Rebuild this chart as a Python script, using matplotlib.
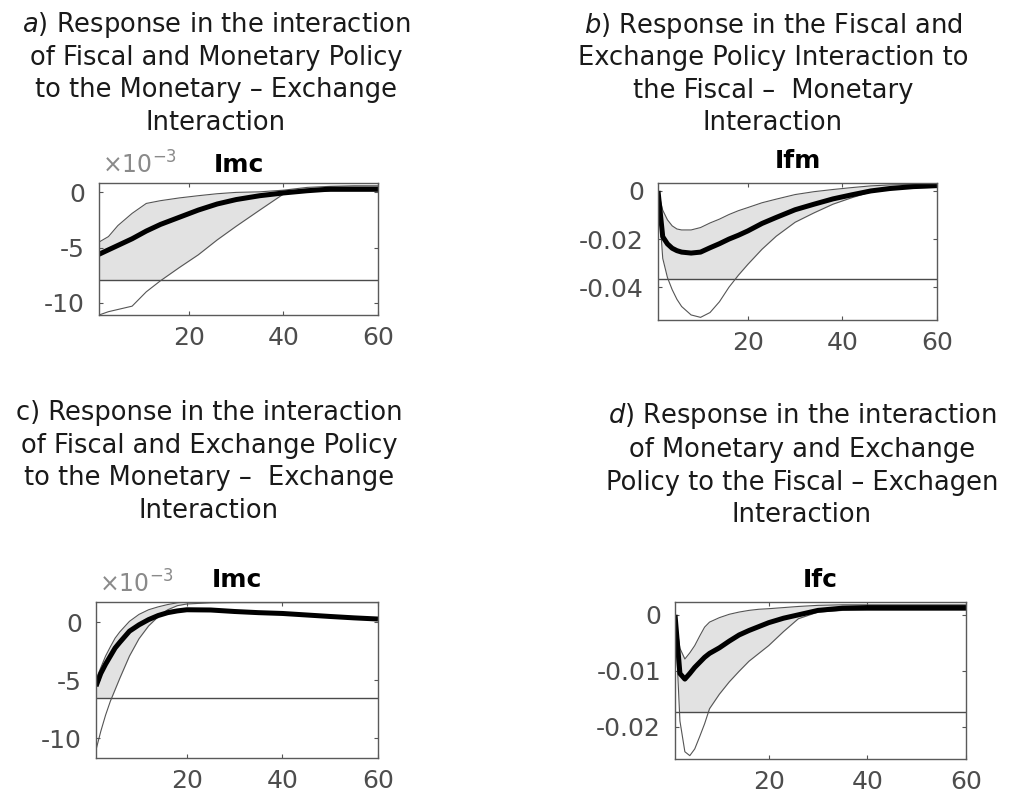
import numpy as np
import matplotlib
matplotlib.use('Agg')
from matplotlib import pyplot as plt
from matplotlib.ticker import FuncFormatter

plt.rcParams['font.family'] = 'DejaVu Sans'
plt.rcParams['axes.unicode_minus'] = False
plt.rcParams['mathtext.fontset'] = 'dejavusans'

# a) Imc response, values in units of 1e-3
h_a = [1, 3, 5, 8, 11, 14, 18, 22, 26, 30, 35, 40, 45, 50, 55, 60]
mean_a = [-5.6, -5.2, -4.8, -4.2, -3.5, -2.9, -2.25, -1.6, -1.05, -0.65, -0.3, -0.05, 0.15, 0.3, 0.3, 0.3]
upper_a = [-4.5, -4.0, -3.0, -1.9, -1.0, -0.75, -0.5, -0.3, -0.12, 0.0, 0.05, 0.2, 0.45, 0.55, 0.6, 0.6]
lower_a = [-11.1, -10.8, -10.6, -10.3, -9.0, -8.0, -6.8, -5.65, -4.3, -3.07, -1.6, -0.15, 0.1, 0.1, 0.1, 0.1]

# b) Ifm response
h_b = [1, 2, 3, 4, 5, 6, 8, 10, 12, 14, 16, 18, 20, 23, 26, 30, 34, 38, 42, 46, 50, 55, 60]
mean_b = [0.0, -0.019, -0.022, -0.0238, -0.0248, -0.0254, -0.0258, -0.0254, -0.0236, -0.0219,
          -0.0200, -0.0184, -0.0166, -0.0135, -0.0110, -0.0078, -0.0055, -0.0033, -0.0016,
          0.0000, 0.0010, 0.0018, 0.0022]
upper_b = [0.0, -0.008, -0.012, -0.0145, -0.0158, -0.0162, -0.0162, -0.0152, -0.0133, -0.0117,
           -0.0098, -0.0082, -0.0069, -0.0049, -0.0034, -0.0015, -0.0003, 0.0006, 0.0014,
           0.0021, 0.0025, 0.0027, 0.0028]
lower_b = [0.0, -0.028, -0.036, -0.041, -0.045, -0.048, -0.0515, -0.0525, -0.0505, -0.046,
           -0.040, -0.035, -0.0305, -0.0242, -0.0188, -0.013, -0.0091, -0.0055, -0.0028,
           -0.0004, 0.0008, 0.0013, 0.0015]

# c) Imc response, values in units of 1e-3
h_c = [1, 2, 3, 4, 5, 6, 8, 10, 12, 14, 16, 18, 20, 25, 30, 35, 40, 45, 50, 55, 60]
mean_c = [-5.5, -4.4, -3.6, -2.9, -2.2, -1.7, -0.75, -0.2, 0.25, 0.6, 0.85, 1.0, 1.1, 1.08,
          0.95, 0.85, 0.78, 0.65, 0.52, 0.4, 0.3]
upper_c = [-4.9, -3.9, -2.9, -2.1, -1.35, -0.8, 0.1, 0.7, 1.1, 1.35, 1.55, 1.7, 1.8, 1.9,
           1.9, 1.9, 1.9, 1.9, 1.9, 1.9, 1.9]
lower_c = [-11.0, -9.4, -8.0, -6.8, -5.8, -4.8, -2.9, -1.4, -0.3, 0.5, 1.1, 1.45, 1.6, 1.7,
           1.72, 1.72, 1.72, 1.72, 1.72, 1.72, 1.72]

# d) Ifc response
h_d = [1, 2, 3, 4, 5, 6, 7, 8, 10, 12, 14, 16, 18, 20, 23, 26, 30, 35, 40, 50, 60]
mean_d = [0.0, -0.0105, -0.0115, -0.0105, -0.0094, -0.0085, -0.0076, -0.0069, -0.0059, -0.0047,
          -0.0036, -0.0028, -0.0021, -0.0014, -0.0006, 0.0, 0.0008, 0.0012, 0.0013, 0.0013, 0.0013]
upper_d = [0.0, -0.006, -0.0079, -0.0068, -0.0055, -0.0038, -0.0022, -0.0013, -0.0005, 0.0001,
           0.0005, 0.0008, 0.001, 0.0011, 0.0013, 0.0015, 0.0017, 0.0018, 0.0018, 0.0018, 0.0018]
lower_d = [0.0, -0.019, -0.0245, -0.0252, -0.024, -0.0218, -0.0195, -0.0168, -0.0142, -0.012,
           -0.0101, -0.0083, -0.0069, -0.0055, -0.003, -0.0007, 0.0005, 0.0008, 0.0008, 0.0008, 0.0008]

captions_a = ['$\\it{a}$) Response in the interaction', 'of Fiscal and Monetary Policy',
              'to the Monetary \u2013 Exchange', 'Interaction']
captions_b = ['$\\it{b}$) Response in the Fiscal and', 'Exchange Policy Interaction to',
              'the Fiscal \u2013  Monetary', 'Interaction']
captions_c = ['c) Response in the interaction', 'of Fiscal and Exchange Policy',
              'to the Monetary \u2013  Exchange', 'Interaction']
captions_d = ['$\\it{d}$) Response in the interaction', 'of Monetary and Exchange',
              'Policy to the Fiscal \u2013 Exchagen', 'Interaction']

W, H = 1026, 799
fig = plt.figure(figsize=(W / 100, H / 100), dpi=100)


def px_axes(left, top, right, bottom):
    return fig.add_axes([left / W, 1 - bottom / H, (right - left) / W, (bottom - top) / H])


def irf_panel(ax, h, mean, lower, upper, base, ylim, yticks, name, pad, scale=1.0):
    h = np.asarray(h)
    mean = np.asarray(mean) * scale
    lower = np.asarray(lower) * scale
    upper = np.asarray(upper) * scale
    base = base * scale
    # shaded band is drawn down to the base level, the part under the lower bound is blanked
    ax.fill_between(h, base, upper, color='#e2e2e2', lw=0)
    ax.fill_between(h, base, lower, color='white', lw=0)
    ax.axhline(base, color='#4a4a4a', lw=1.0)
    ax.plot(h, upper, color='#555555', lw=0.8)
    ax.plot(h, lower, color='#555555', lw=0.8)
    ax.plot(h, mean, color='black', lw=3.6, solid_capstyle='butt')
    ax.set_xlim(1, 60)
    ax.set_ylim(ylim[0] * scale, ylim[1] * scale)
    ax.set_xticks([20, 40, 60])
    ax.set_yticks(np.array(yticks) * scale)
    ax.tick_params(direction='in', length=3, width=0.8, color='#555555', top=True, right=True,
                   labelsize=18, labelcolor='#4d4d4d', pad=8)
    ax.tick_params(axis='y', pad=10)
    for s in ax.spines.values():
        s.set_color('#5a5a5a')
        s.set_linewidth(1.0)
    ax.yaxis.set_major_formatter(FuncFormatter(lambda v, p: '%g' % round(v / scale, 6)))
    if scale != 1.0:
        # exponent shown above the y axis, matlab style
        ax.text(0.01, 1.03, '\u00d710$^{-3}$', transform=ax.transAxes, ha='left', va='bottom',
                fontsize=17, color='#8a8a8a')
    ax.set_title(name, fontweight='bold', fontsize=18, pad=pad)


def caption(lines, xc, baselines):
    for line, yb in zip(lines, baselines):
        fig.text(xc / W, 1 - yb / H, line, ha='center', va='baseline', fontsize=18.5, color='#1a1a1a')


ax_a = px_axes(99, 183, 378, 315)
irf_panel(ax_a, h_a, mean_a, lower_a, upper_a, -7.9, (-11.1, 0.85), [-10, -5, 0], 'Imc', 8, scale=1e-3)

ax_b = px_axes(658, 183, 937, 320)
irf_panel(ax_b, h_b, mean_b, lower_b, upper_b, -0.0365, (-0.0536, 0.0033), [-0.04, -0.02, 0], 'Ifm', 11)

ax_c = px_axes(96, 602, 378, 758)
irf_panel(ax_c, h_c, mean_c, lower_c, upper_c, -6.5, (-11.7, 1.77), [-10, -5, 0], 'Imc', 11, scale=1e-3)

ax_d = px_axes(675, 602, 966, 759)
irf_panel(ax_d, h_d, mean_d, lower_d, upper_d, -0.0173, (-0.0258, 0.0023), [-0.02, -0.01, 0], 'Ifc', 11)

caption(captions_a, 216, [32, 65, 97, 130])
caption(captions_b, 773, [33, 65, 98, 130])
caption(captions_c, 209, [420, 453, 485, 518])
caption(captions_d, 802, [423, 457, 490, 522])

fig.savefig('out.png', dpi=100)
